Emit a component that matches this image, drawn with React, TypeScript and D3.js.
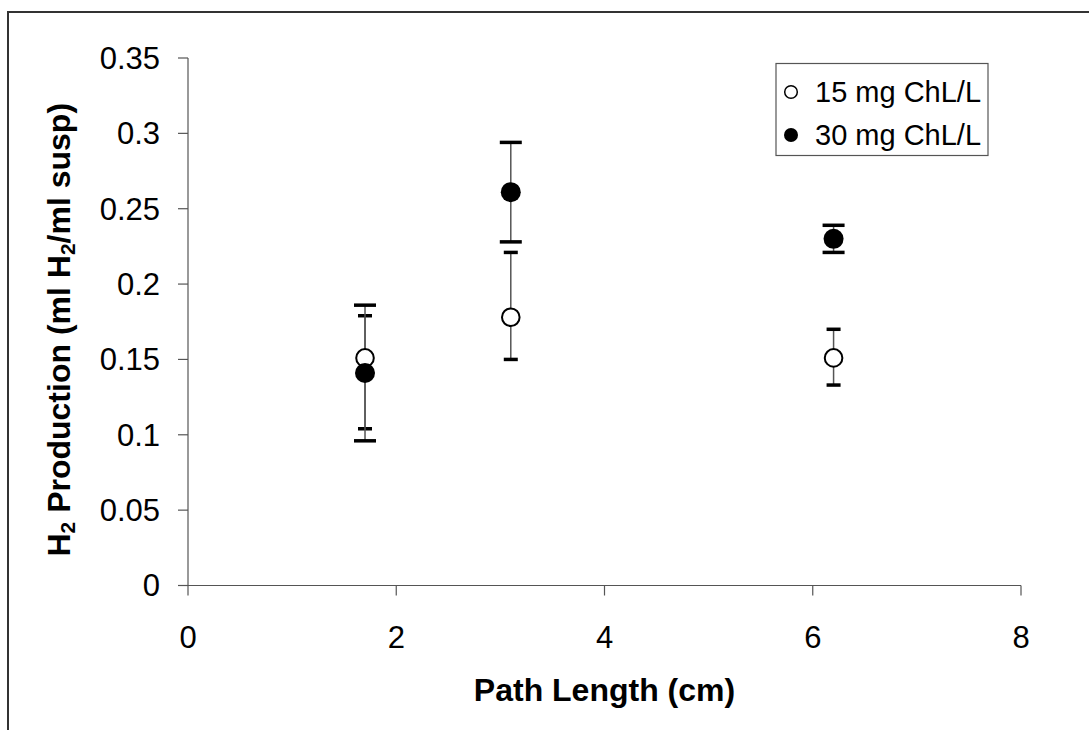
import React from "react";
import * as d3 from "d3";

// path length (cm)
const pathLengths = [1.7, 3.1, 6.2];

// 15 mg ChL/L (open circles)
const low = [0.151, 0.178, 0.151];
const lowPlus = [0.028, 0.043, 0.019];
const lowMinus = [0.047, 0.028, 0.018];

// 30 mg ChL/L (filled circles)
const high = [0.141, 0.261, 0.23];
const highPlus = [0.045, 0.033, 0.009];
const highMinus = [0.045, 0.033, 0.009];

const xTicks = [0, 2, 4, 6, 8];
const yTicks = [0, 0.05, 0.1, 0.15, 0.2, 0.25, 0.3, 0.35];
const yTickLabels = ["0", "0.05", "0.1", "0.15", "0.2", "0.25", "0.3", "0.35"];

const seriesNames = ["15 mg ChL/L", "30 mg ChL/L"];

const FONT = "'Liberation Sans', Arial, sans-serif";

const App = () => {
  const x = d3.scaleLinear().domain([0, 8]).range([188, 1021]);
  const y = d3.scaleLinear().domain([0, 0.35]).range([585.5, 58]);

  const series = [
    { vals: low, plus: lowPlus, minus: lowMinus, filled: false, capW: 14 },
    { vals: high, plus: highPlus, minus: highMinus, filled: true, capW: 22 },
  ];

  return (
    <svg
      width={1089}
      height={730}
      style={{ position: "absolute", left: 0, top: 0, display: "block", background: "#fff" }}
      fontFamily={FONT}
    >
      {/* chart area border (runs off right/bottom) */}
      <rect x={8} y={12} width={1200} height={800} fill="#fff" stroke="#333" strokeWidth={2} />

      {/* y axis */}
      <line x1={x(0)} x2={x(0)} y1={y(0.35)} y2={y(0)} stroke="#555" strokeWidth={1.2} />
      {yTicks.map((t, i) => (
        <g key={"yt" + i}>
          <line x1={x(0) - 10} x2={x(0)} y1={y(t)} y2={y(t)} stroke="#555" strokeWidth={1.2} />
          <text x={160} y={y(t)} dy="0.35em" textAnchor="end" fontSize={31} fill="#000">
            {yTickLabels[i]}
          </text>
        </g>
      ))}

      {/* x axis */}
      <line x1={x(0) - 10} x2={x(8)} y1={y(0)} y2={y(0)} stroke="#555" strokeWidth={1.2} />
      {xTicks.map((t) => (
        <g key={"xt" + t}>
          <line x1={x(t)} x2={x(t)} y1={y(0)} y2={y(0) + 10} stroke="#555" strokeWidth={1.2} />
          <text x={x(t)} y={648} textAnchor="middle" fontSize={31} fill="#000">
            {t}
          </text>
        </g>
      ))}

      {/* axis titles */}
      <text x={(x(0) + x(8)) / 2} y={701} textAnchor="middle" fontSize={32} fontWeight="bold">
        Path Length (cm)
      </text>
      <text
        transform={`translate(70, ${(y(0) + y(0.35)) / 2 + 8}) rotate(-90)`}
        textAnchor="middle"
        fontSize={32}
        fontWeight="bold"
      >
        H<tspan fontSize={21} dy={5}>2</tspan>
        <tspan dy={-5}> Production (ml H</tspan>
        <tspan fontSize={21} dy={5}>2</tspan>
        <tspan dy={-5}>/ml susp)</tspan>
      </text>

      {/* error bars */}
      {series.map((s, si) =>
        s.vals.map((v, i) => {
          const cx = x(pathLengths[i]);
          const top = y(v + s.plus[i]);
          const bot = y(v - s.minus[i]);
          return (
            <g key={`eb${si}-${i}`}>
              <line x1={cx} x2={cx} y1={top} y2={bot} stroke="#555" strokeWidth={1.5} />
              <line x1={cx - s.capW / 2} x2={cx + s.capW / 2} y1={top} y2={top} stroke="#000" strokeWidth={3.5} />
              <line x1={cx - s.capW / 2} x2={cx + s.capW / 2} y1={bot} y2={bot} stroke="#000" strokeWidth={3.5} />
            </g>
          );
        })
      )}

      {/* markers */}
      {series.map((s, si) =>
        s.vals.map((v, i) => (
          <circle
            key={`m${si}-${i}`}
            cx={x(pathLengths[i])}
            cy={y(v)}
            r={s.filled ? 10 : 8.8}
            fill={s.filled ? "#000" : "#fff"}
            stroke="#000"
            strokeWidth={s.filled ? 0 : 2}
          />
        ))
      )}

      {/* legend */}
      <rect x={776} y={63.5} width={212} height={92} fill="#fff" stroke="#555" strokeWidth={1.2} />
      {seriesNames.map((name, i) => (
        <g key={"lg" + i}>
          <circle
            cx={791}
            cy={92 + i * 43}
            r={i === 1 ? 7 : 6.3}
            fill={i === 1 ? "#000" : "#fff"}
            stroke="#000"
            strokeWidth={i === 1 ? 0 : 1.5}
          />
          <text x={815} y={92 + i * 43} dy="0.36em" fontSize={29}>
            {name}
          </text>
        </g>
      ))}
    </svg>
  );
};

export default App;
